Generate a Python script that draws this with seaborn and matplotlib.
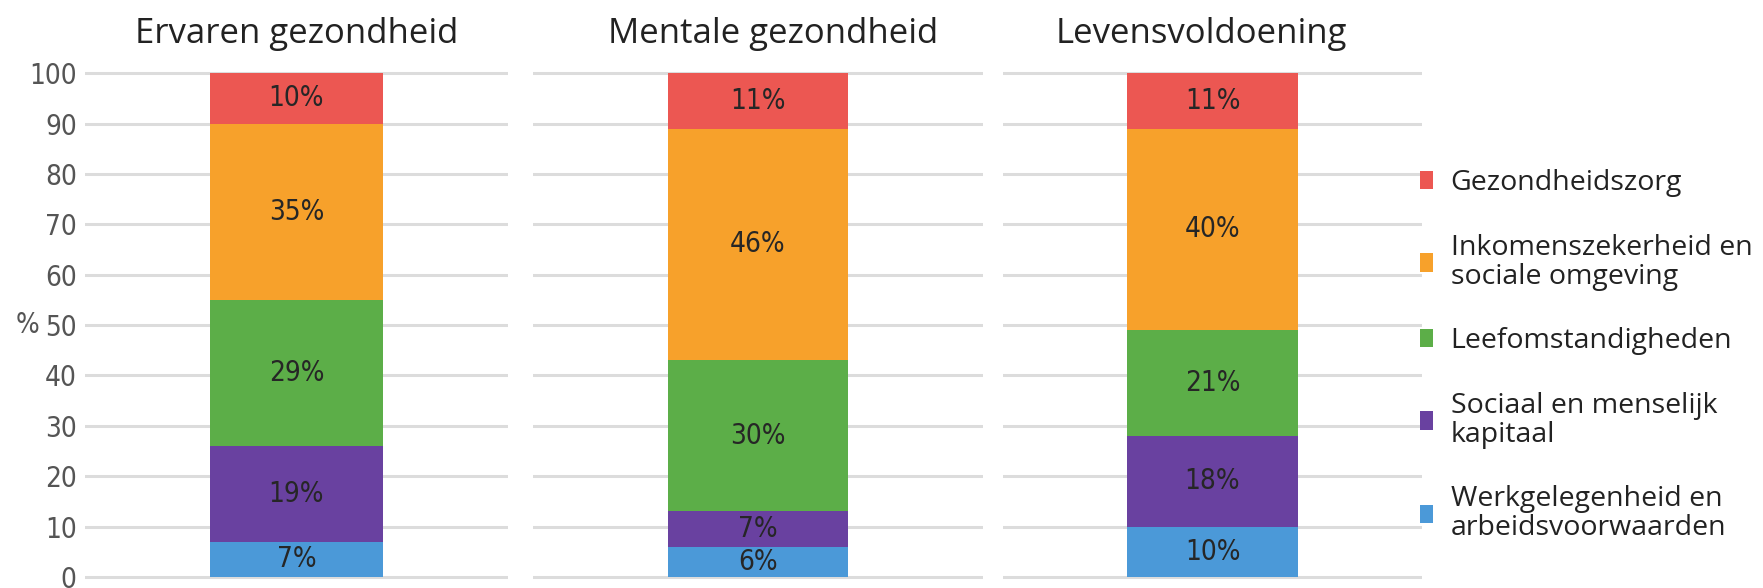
import seaborn as sns
import matplotlib.pyplot as plt
from matplotlib.patches import Patch
from matplotlib.font_manager import FontProperties

# Panels (one stacked bar each)
panels = ["Ervaren gezondheid", "Mentale gezondheid", "Levensvoldoening"]

# Stack order from bottom to top
categories = [
    "Werkgelegenheid en\narbeidsvoorwaarden",
    "Sociaal en menselijk\nkapitaal",
    "Leefomstandigheden",
    "Inkomenszekerheid en\nsociale omgeving",
    "Gezondheidszorg",
]
colors = ["#4B99D8", "#6941A0", "#5CAE48", "#F7A12B", "#EC5752"]

# Share (%) per panel
werk = [7, 6, 10]
sociaal = [19, 7, 18]
leef = [29, 30, 21]
inkomen = [35, 46, 40]
zorg = [10, 11, 11]
stack = [werk, sociaal, leef, inkomen, zorg]

yticks = list(range(0, 101, 10))

sns.set_theme(style="white")
plt.rcParams["font.family"] = ["Open Sans", "DejaVu Sans"]


def narrow(size):
    # condensed face for the numbers
    return FontProperties(family=["Liberation Sans Narrow", "DejaVu Sans"],
                          stretch="condensed", size=size)


fig = plt.figure(figsize=(17.63, 5.88), dpi=100)

# axes boxes (left, width) in figure fractions, bar width and title x per panel
boxes = [(0.0482, 0.2399), (0.3023, 0.2552), (0.5689, 0.2377)]
bar_width = [0.407, 0.40, 0.41]
title_x = [0.5, 0.533, 0.473]

for i, panel in enumerate(panels):
    left, width = boxes[i]
    ax = fig.add_axes([left, 0.0017, width, 0.8866])
    bottom = 0
    for vals, col in zip(stack, colors):
        v = vals[i]
        sns.barplot(x=[panel], y=[v], bottom=bottom, color=col, saturation=1,
                    width=bar_width[i], linewidth=0, errorbar=None, ax=ax)
        ax.text(0, bottom + v / 2, f"{v}%", ha="center", va="center",
                fontproperties=narrow(20), color="#262626")
        bottom += v

    ax.set_xlim(-0.5, 0.5)
    ax.set_ylim(-2, 101.5)
    ax.set_yticks(yticks)
    ax.yaxis.grid(True, color="#dcdcdc", lw=2.2)
    ax.xaxis.grid(False)
    ax.set_axisbelow(True)
    sns.despine(ax=ax, left=True, bottom=True)
    ax.set_xticks([])
    ax.set_xlabel("")
    ax.set_ylabel("")
    ax.set_title(panel, fontsize=25, pad=16, color="#222222", x=title_x[i])
    ax.tick_params(axis="y", length=0, pad=6, labelcolor="#555555")

    if i == 0:
        for lbl in ax.get_yticklabels():
            lbl.set_fontproperties(narrow(20))
        ax.set_ylabel("%", rotation=0, fontproperties=narrow(20),
                      color="#555555", ha="center", va="center")
        ax.yaxis.set_label_coords(-0.137, 50, transform=ax.get_yaxis_transform())
    else:
        ax.set_yticklabels([])

# Legend, top entry = top of the stack
handles = [Patch(facecolor=c, edgecolor="none") for c in colors[::-1]]
leg = fig.legend(handles, categories[::-1], loc="center left",
                 bbox_to_anchor=(0.8054, 0.395), frameon=False, fontsize=20.5,
                 handlelength=0.46, handleheight=0.62, handletextpad=0.62,
                 labelspacing=1.28, borderpad=0, borderaxespad=0)
for t in leg.get_texts():
    t.set_color("#222222")
    t.set_linespacing(1.05)

fig.savefig("out.png", dpi=100)
plt.close(fig)
